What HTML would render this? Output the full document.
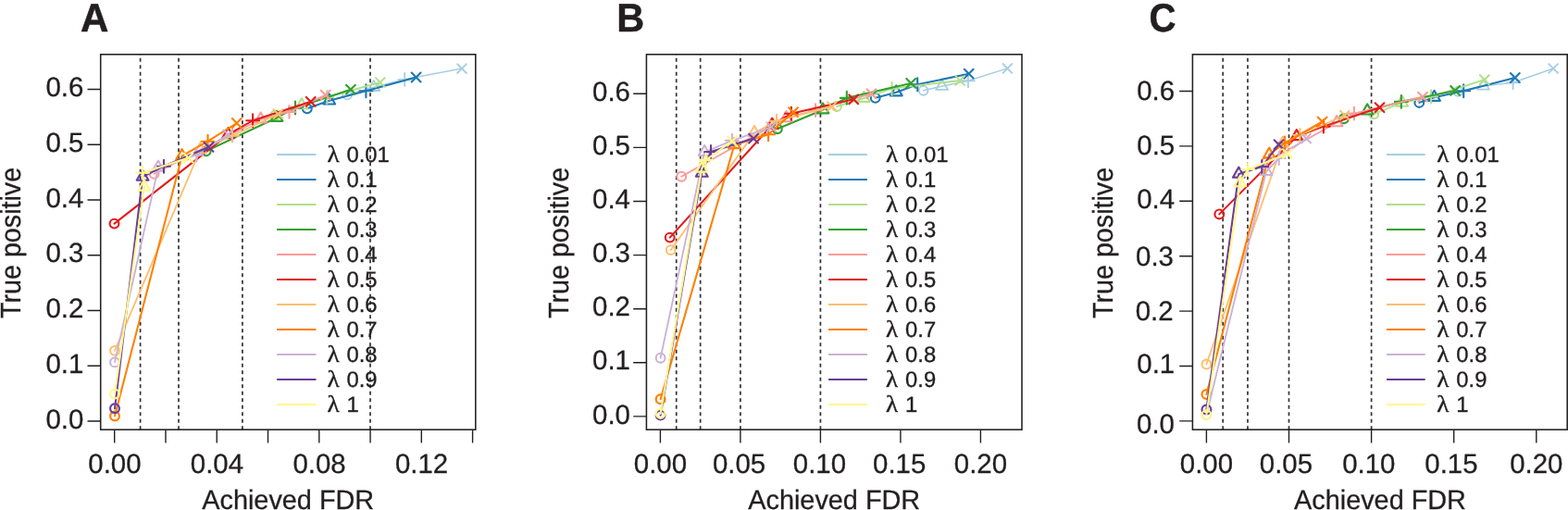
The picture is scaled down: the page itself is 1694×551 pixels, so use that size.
<!DOCTYPE html>
<html lang="en">
<head>
<meta charset="utf-8">
<title>True positive vs achieved FDR</title>
<style>
html,body{margin:0;padding:0;background:#fff;}
body{width:1694px;height:551px;overflow:hidden;}
svg{display:block;}
text{font-family:"Liberation Sans",Arial,Helvetica,sans-serif;fill:#231f20;text-rendering:geometricPrecision;}
.t{font-size:29.4px;stroke:#231f20;stroke-width:0.3px;}
.l{font-size:23.8px;stroke:#231f20;stroke-width:0.35px;}
.lm{font-family:"Liberation Serif","DejaVu Serif",serif;}
.p{font-size:42px;font-weight:bold;stroke:#231f20;stroke-width:0.5px;stroke-linejoin:miter;}
.ax{stroke:#231f20;stroke-width:1.55;fill:none;}
.tk{stroke:#231f20;stroke-width:1.4;fill:none;}
.vl{stroke:#333132;stroke-width:1.7;stroke-dasharray:4 3.5;fill:none;}
.s{fill:none;stroke-width:2.05;stroke-linejoin:round;stroke-linecap:round;}
.m{fill:none;stroke-width:2.15;stroke-linejoin:round;stroke-linecap:round;}
.lt .s{stroke-width:1.85;}
.lt .m{stroke-width:2.05;}
.lb .s{stroke-width:1.5;}
.lb .m{stroke-width:1.85;}
.lg{stroke-width:1.8;fill:none;}
</style>
</head>
<body>
<svg width="1694" height="551" viewBox="0 0 1694 551" role="img" aria-label="True positive versus achieved FDR for different lambda values, panels A, B and C">
<rect width="1694" height="551" fill="#fff"/>

<g id="panelA">
<text class="p" transform="translate(87.1 34.0) scale(1 1.025)">A</text>
<path class="vl" d="M151.6 464.2V58.8"/>
<path class="vl" d="M193 464.2V58.8"/>
<path class="vl" d="M261.9 464.2V58.8"/>
<path class="vl" d="M400 464.2V58.8"/>
<g stroke="#A6CEE3" class="lb">
<polyline class="s" points="375.1,102.5 403.8,94.3 437.2,85.8 499,74.1"/>
<g class="m"><circle cx="375.1" cy="102.5" r="4.9"/><path d="M403.8 86.91L410.2 97.99L397.4 97.99Z"/><path d="M430.27 85.8H444.13M437.2 78.87V92.73"/><path d="M494.1 69.2L503.9 79M494.1 79L503.9 69.2"/></g>
</g>
<g stroke="#1F78B4">
<polyline class="s" points="331.8,117.3 355.7,108.8 395.4,98.2 449.6,83.5"/>
<g class="m"><circle cx="331.8" cy="117.3" r="4.9"/><path d="M355.7 101.41L362.1 112.49L349.3 112.49Z"/><path d="M388.47 98.2H402.33M395.4 91.27V105.13"/><path d="M444.7 78.6L454.5 88.4M444.7 88.4L454.5 78.6"/></g>
</g>
<g stroke="#B2DF8A" class="lt">
<polyline class="s" points="297.5,124.3 326,113.6 353.3,105 410.8,89"/>
<g class="m"><circle cx="297.5" cy="124.3" r="4.9"/><path d="M326 106.21L332.4 117.29L319.6 117.29Z"/><path d="M346.37 105H360.23M353.3 98.07V111.93"/><path d="M405.9 84.1L415.7 93.9M405.9 93.9L415.7 84.1"/></g>
</g>
<g stroke="#33A02C">
<polyline class="s" points="222.6,163.3 299,127.2 319,116.6 378.9,96.7"/>
<g class="m"><circle cx="222.6" cy="163.3" r="4.9"/><path d="M299 119.81L305.4 130.89L292.6 130.89Z"/><path d="M312.07 116.6H325.93M319 109.67V123.53"/><path d="M374 91.8L383.8 101.6M374 101.6L383.8 91.8"/></g>
</g>
<g stroke="#FB9A99" class="lt">
<polyline class="s" points="166.6,187.8 281.6,128.8 312.5,120.9 351.7,102.6"/>
<g class="m"><circle cx="166.6" cy="187.8" r="4.9"/><path d="M281.6 121.41L288 132.49L275.2 132.49Z"/><path d="M305.57 120.9H319.43M312.5 113.97V127.83"/><path d="M346.8 97.7L356.6 107.5M346.8 107.5L356.6 97.7"/></g>
</g>
<g stroke="#E31A1C">
<polyline class="s" points="123.5,241.6 246.6,145.4 273.1,130.2 335.7,109.8"/>
<g class="m"><circle cx="123.5" cy="241.6" r="4.9"/><path d="M246.6 138.01L253 149.09L240.2 149.09Z"/><path d="M266.17 130.2H280.03M273.1 123.27V137.13"/><path d="M330.8 104.9L340.6 114.7M330.8 114.7L340.6 104.9"/></g>
</g>
<g stroke="#FDBF6F" class="lt">
<polyline class="s" points="124,378.8 216.4,161.6 251,146.6 300.4,123.1"/>
<g class="m"><circle cx="124" cy="378.8" r="4.9"/><path d="M216.4 154.21L222.8 165.29L210 165.29Z"/><path d="M244.07 146.6H257.93M251 139.67V153.53"/><path d="M295.5 118.2L305.3 128M295.5 128L305.3 118.2"/></g>
</g>
<g stroke="#FF7F00">
<polyline class="s" points="124,449.5 196.6,168.5 224.5,152.7 255.8,133"/>
<g class="m"><circle cx="124" cy="449.5" r="4.9"/><path d="M196.6 161.11L203 172.19L190.2 172.19Z"/><path d="M217.57 152.7H231.43M224.5 145.77V159.63"/><path d="M250.9 128.1L260.7 137.9M250.9 137.9L260.7 128.1"/></g>
</g>
<g stroke="#CAB2D6" class="lt">
<polyline class="s" points="124,391.4 171,181 212.4,167.4 246.4,145.4"/>
<g class="m"><circle cx="124" cy="391.4" r="4.9"/><path d="M171 173.61L177.4 184.69L164.6 184.69Z"/><path d="M205.47 167.4H219.33M212.4 160.47V174.33"/><path d="M241.5 140.5L251.3 150.3M241.5 150.3L251.3 140.5"/></g>
</g>
<g stroke="#6A3D9A">
<polyline class="s" points="124,441.3 154.1,191.1 177,179.7 225.5,158.8"/>
<g class="m"><circle cx="124" cy="441.3" r="4.9"/><path d="M154.1 183.71L160.5 194.79L147.7 194.79Z"/><path d="M170.07 179.7H183.93M177 172.77V186.63"/><path d="M220.6 153.9L230.4 163.7M220.6 163.7L230.4 153.9"/></g>
</g>
<g stroke="#FFF88C">
<polyline class="s" points="124,425.6 155.8,202 154.1,186.7 203.5,170.5"/>
<g class="m"><circle cx="124" cy="425.6" r="4.9"/><path d="M155.8 194.61L162.2 205.69L149.4 205.69Z"/><path d="M147.17 186.7H161.03M154.1 179.77V193.63"/><path d="M198.6 165.6L208.4 175.4M198.6 175.4L208.4 165.6"/></g>
</g>
<path class="lg" stroke="#A6CEE3" d="M299.1 167H341.5"/>
<text class="l lm" transform="translate(353.5 175.4) scale(1.14 1.075)">λ</text><text class="l" transform="translate(374.5 175.4) scale(1 1.0)">0.01</text>
<path class="lg" stroke="#1F78B4" d="M299.1 194H341.5"/>
<text class="l lm" transform="translate(353.5 202.4) scale(1.14 1.075)">λ</text><text class="l" transform="translate(374.5 202.4) scale(1 1.0)">0.1</text>
<path class="lg" stroke="#B2DF8A" d="M299.1 221H341.5"/>
<text class="l lm" transform="translate(353.5 229.4) scale(1.14 1.075)">λ</text><text class="l" transform="translate(374.5 229.4) scale(1 1.0)">0.2</text>
<path class="lg" stroke="#33A02C" d="M299.1 248H341.5"/>
<text class="l lm" transform="translate(353.5 256.4) scale(1.14 1.075)">λ</text><text class="l" transform="translate(374.5 256.4) scale(1 1.0)">0.3</text>
<path class="lg" stroke="#FB9A99" d="M299.1 275H341.5"/>
<text class="l lm" transform="translate(353.5 283.4) scale(1.14 1.075)">λ</text><text class="l" transform="translate(374.5 283.4) scale(1 1.0)">0.4</text>
<path class="lg" stroke="#E31A1C" d="M299.1 302H341.5"/>
<text class="l lm" transform="translate(353.5 310.4) scale(1.14 1.075)">λ</text><text class="l" transform="translate(374.5 310.4) scale(1 1.0)">0.5</text>
<path class="lg" stroke="#FDBF6F" d="M299.1 329H341.5"/>
<text class="l lm" transform="translate(353.5 337.4) scale(1.14 1.075)">λ</text><text class="l" transform="translate(374.5 337.4) scale(1 1.0)">0.6</text>
<path class="lg" stroke="#FF7F00" d="M299.1 356H341.5"/>
<text class="l lm" transform="translate(353.5 364.4) scale(1.14 1.075)">λ</text><text class="l" transform="translate(374.5 364.4) scale(1 1.0)">0.7</text>
<path class="lg" stroke="#CAB2D6" d="M299.1 383H341.5"/>
<text class="l lm" transform="translate(353.5 391.4) scale(1.14 1.075)">λ</text><text class="l" transform="translate(374.5 391.4) scale(1 1.0)">0.8</text>
<path class="lg" stroke="#6A3D9A" d="M299.1 410H341.5"/>
<text class="l lm" transform="translate(353.5 418.4) scale(1.14 1.075)">λ</text><text class="l" transform="translate(374.5 418.4) scale(1 1.0)">0.9</text>
<path class="lg" stroke="#FFF88C" d="M299.1 437H341.5"/>
<text class="l lm" transform="translate(353.5 445.4) scale(1.14 1.075)">λ</text><text class="l" transform="translate(374.5 445.4) scale(1 1.0)">1</text>
<rect class="ax" x="108.7" y="58.8" width="405.1" height="405.4"/>
<path class="tk" d="M123.7 464.2V478.4M178.97 464.2V478.4M234.24 464.2V478.4M289.51 464.2V478.4M344.78 464.2V478.4M400.05 464.2V478.4M455.32 464.2V478.4M510.59 464.2V478.4M108.7 455H94.5M108.7 395.25H94.5M108.7 335.5H94.5M108.7 275.75H94.5M108.7 216H94.5M108.7 156.25H94.5M108.7 96.5H94.5"/>
<text class="t" text-anchor="middle" transform="translate(123.9 510.5) scale(1 1.0)">0.00</text>
<text class="t" text-anchor="middle" transform="translate(234.44 510.5) scale(1 1.0)">0.04</text>
<text class="t" text-anchor="middle" transform="translate(344.98 510.5) scale(1 1.0)">0.08</text>
<text class="t" text-anchor="middle" transform="translate(455.52 510.5) scale(1 1.0)">0.12</text>
<text class="t" text-anchor="end" transform="translate(90.3 462.6) scale(1 1.0)">0.0</text>
<text class="t" text-anchor="end" transform="translate(90.3 402.85) scale(1 1.0)">0.1</text>
<text class="t" text-anchor="end" transform="translate(90.3 343.1) scale(1 1.0)">0.2</text>
<text class="t" text-anchor="end" transform="translate(90.3 283.35) scale(1 1.0)">0.3</text>
<text class="t" text-anchor="end" transform="translate(90.3 223.6) scale(1 1.0)">0.4</text>
<text class="t" text-anchor="end" transform="translate(90.3 163.85) scale(1 1.0)">0.5</text>
<text class="t" text-anchor="end" transform="translate(90.3 104.1) scale(1 1.0)">0.6</text>
<text class="t" text-anchor="middle" transform="translate(311.2 550) scale(0.981 1.0)">Achieved FDR</text>
<text class="t" text-anchor="middle" transform="translate(21.8 262.4) rotate(-90) scale(0.975 1.04)">True positive</text>
</g>
<g id="panelB">
<text class="p" transform="translate(666.2 34.0) scale(0.985 1.025)">B</text>
<path class="vl" d="M730.7 464.2V58.8"/>
<path class="vl" d="M756.65 464.2V58.8"/>
<path class="vl" d="M799.9 464.2V58.8"/>
<path class="vl" d="M886.4 464.2V58.8"/>
<g stroke="#A6CEE3" class="lb">
<polyline class="s" points="997.6,97.8 1017.6,93.2 1045.9,87.2 1088.4,73.9"/>
<g class="m"><circle cx="997.6" cy="97.8" r="4.9"/><path d="M1017.6 85.81L1024 96.89L1011.2 96.89Z"/><path d="M1038.97 87.2H1052.83M1045.9 80.27V94.13"/><path d="M1083.5 69L1093.3 78.8M1083.5 78.8L1093.3 69"/></g>
</g>
<g stroke="#1F78B4">
<polyline class="s" points="945.7,105.8 968.3,99.7 991.2,91.3 1046.7,79.7"/>
<g class="m"><circle cx="945.7" cy="105.8" r="4.9"/><path d="M968.3 92.31L974.7 103.39L961.9 103.39Z"/><path d="M984.27 91.3H998.13M991.2 84.37V98.23"/><path d="M1041.8 74.8L1051.6 84.6M1041.8 84.6L1051.6 74.8"/></g>
</g>
<g stroke="#B2DF8A" class="lt">
<polyline class="s" points="904,115 933.4,106.2 963.5,95.7 1037.2,87"/>
<g class="m"><circle cx="904" cy="115" r="4.9"/><path d="M933.4 98.81L939.8 109.89L927 109.89Z"/><path d="M956.57 95.7H970.43M963.5 88.77V102.63"/><path d="M1032.3 82.1L1042.1 91.9M1032.3 91.9L1042.1 82.1"/></g>
</g>
<g stroke="#33A02C">
<polyline class="s" points="839.8,139.2 888.9,118.7 914.8,105.8 984.2,89.9"/>
<g class="m"><circle cx="839.8" cy="139.2" r="4.9"/><path d="M888.9 111.31L895.3 122.39L882.5 122.39Z"/><path d="M907.87 105.8H921.73M914.8 98.87V112.73"/><path d="M979.3 85L989.1 94.8M979.3 94.8L989.1 85"/></g>
</g>
<g stroke="#FB9A99" class="lt">
<polyline class="s" points="736.2,190.7 849.4,127.5 881.1,119.1 941.4,101.2"/>
<g class="m"><circle cx="736.2" cy="190.7" r="4.9"/><path d="M849.4 120.11L855.8 131.19L843 131.19Z"/><path d="M874.17 119.1H888.03M881.1 112.17V126.03"/><path d="M936.5 96.3L946.3 106.1M936.5 106.1L946.3 96.3"/></g>
</g>
<g stroke="#E31A1C">
<polyline class="s" points="723.7,256.6 834.2,135 854.9,122.7 922.2,107.3"/>
<g class="m"><circle cx="723.7" cy="256.6" r="4.9"/><path d="M834.2 127.61L840.6 138.69L827.8 138.69Z"/><path d="M847.97 122.7H861.83M854.9 115.77V129.63"/><path d="M917.3 102.4L927.1 112.2M917.3 112.2L927.1 102.4"/></g>
</g>
<g stroke="#FDBF6F" class="lt">
<polyline class="s" points="724.7,270.1 815,143.5 839,130.7 898.8,115"/>
<g class="m"><circle cx="724.7" cy="270.1" r="4.9"/><path d="M815 136.11L821.4 147.19L808.6 147.19Z"/><path d="M832.07 130.7H845.93M839 123.77V137.63"/><path d="M893.9 110.1L903.7 119.9M893.9 119.9L903.7 110.1"/></g>
</g>
<g stroke="#FF7F00">
<polyline class="s" points="713.6,431.3 793.4,156.5 830.1,145.2 857,121.2"/>
<g class="m"><circle cx="713.6" cy="431.3" r="4.9"/><path d="M793.4 149.11L799.8 160.19L787 160.19Z"/><path d="M823.17 145.2H837.03M830.1 138.27V152.13"/><path d="M852.1 116.3L861.9 126.1M852.1 126.1L861.9 116.3"/></g>
</g>
<g stroke="#CAB2D6" class="lt">
<polyline class="s" points="713.6,386.7 761.1,164.3 790.9,151.8 833.4,137.2"/>
<g class="m"><circle cx="713.6" cy="386.7" r="4.9"/><path d="M761.1 156.91L767.5 167.99L754.7 167.99Z"/><path d="M783.97 151.8H797.83M790.9 144.87V158.73"/><path d="M828.5 132.3L838.3 142.1M828.5 142.1L838.3 132.3"/></g>
</g>
<g stroke="#6A3D9A">
<polyline class="s" points="713.6,448.6 758.2,187.1 768,164.1 814.1,149.6"/>
<g class="m"><circle cx="713.6" cy="448.6" r="4.9"/><path d="M758.2 179.71L764.6 190.79L751.8 190.79Z"/><path d="M761.07 164.1H774.93M768 157.17V171.03"/><path d="M809.2 144.7L819 154.5M809.2 154.5L819 144.7"/></g>
</g>
<g stroke="#FFF88C">
<polyline class="s" points="713.6,446.9 758.2,182 762.6,172.8 790.9,152.5"/>
<g class="m"><circle cx="713.6" cy="446.9" r="4.9"/><path d="M758.2 174.61L764.6 185.69L751.8 185.69Z"/><path d="M755.67 172.8H769.53M762.6 165.87V179.73"/><path d="M786 147.6L795.8 157.4M786 157.4L795.8 147.6"/></g>
</g>
<path class="lg" stroke="#A6CEE3" d="M895 167H936.9"/>
<text class="l lm" transform="translate(957.1 175.4) scale(1.14 1.075)">λ</text><text class="l" transform="translate(978.1 175.4) scale(1 1.0)">0.01</text>
<path class="lg" stroke="#1F78B4" d="M895 194H936.9"/>
<text class="l lm" transform="translate(957.1 202.4) scale(1.14 1.075)">λ</text><text class="l" transform="translate(978.1 202.4) scale(1 1.0)">0.1</text>
<path class="lg" stroke="#B2DF8A" d="M895 221H936.9"/>
<text class="l lm" transform="translate(957.1 229.4) scale(1.14 1.075)">λ</text><text class="l" transform="translate(978.1 229.4) scale(1 1.0)">0.2</text>
<path class="lg" stroke="#33A02C" d="M895 248H936.9"/>
<text class="l lm" transform="translate(957.1 256.4) scale(1.14 1.075)">λ</text><text class="l" transform="translate(978.1 256.4) scale(1 1.0)">0.3</text>
<path class="lg" stroke="#FB9A99" d="M895 275H936.9"/>
<text class="l lm" transform="translate(957.1 283.4) scale(1.14 1.075)">λ</text><text class="l" transform="translate(978.1 283.4) scale(1 1.0)">0.4</text>
<path class="lg" stroke="#E31A1C" d="M895 302H936.9"/>
<text class="l lm" transform="translate(957.1 310.4) scale(1.14 1.075)">λ</text><text class="l" transform="translate(978.1 310.4) scale(1 1.0)">0.5</text>
<path class="lg" stroke="#FDBF6F" d="M895 329H936.9"/>
<text class="l lm" transform="translate(957.1 337.4) scale(1.14 1.075)">λ</text><text class="l" transform="translate(978.1 337.4) scale(1 1.0)">0.6</text>
<path class="lg" stroke="#FF7F00" d="M895 356H936.9"/>
<text class="l lm" transform="translate(957.1 364.4) scale(1.14 1.075)">λ</text><text class="l" transform="translate(978.1 364.4) scale(1 1.0)">0.7</text>
<path class="lg" stroke="#CAB2D6" d="M895 383H936.9"/>
<text class="l lm" transform="translate(957.1 391.4) scale(1.14 1.075)">λ</text><text class="l" transform="translate(978.1 391.4) scale(1 1.0)">0.8</text>
<path class="lg" stroke="#6A3D9A" d="M895 410H936.9"/>
<text class="l lm" transform="translate(957.1 418.4) scale(1.14 1.075)">λ</text><text class="l" transform="translate(978.1 418.4) scale(1 1.0)">0.9</text>
<path class="lg" stroke="#FFF88C" d="M895 437H936.9"/>
<text class="l lm" transform="translate(957.1 445.4) scale(1.14 1.075)">λ</text><text class="l" transform="translate(978.1 445.4) scale(1 1.0)">1</text>
<rect class="ax" x="698.4" y="58.8" width="405.6" height="405.4"/>
<path class="tk" d="M713.4 464.2V478.4M799.9 464.2V478.4M886.4 464.2V478.4M972.9 464.2V478.4M1059.4 464.2V478.4M698.4 449.9H684.2M698.4 391.8H684.2M698.4 333.7H684.2M698.4 275.6H684.2M698.4 217.5H684.2M698.4 159.4H684.2M698.4 101.3H684.2"/>
<text class="t" text-anchor="middle" transform="translate(713.4 510.5) scale(1 1.0)">0.00</text>
<text class="t" text-anchor="middle" transform="translate(798.6 510.5) scale(1 1.0)">0.05</text>
<text class="t" text-anchor="middle" transform="translate(885.4 510.5) scale(1 1.0)">0.10</text>
<text class="t" text-anchor="middle" transform="translate(971.7 510.5) scale(1 1.0)">0.15</text>
<text class="t" text-anchor="middle" transform="translate(1059.4 510.5) scale(1 1.0)">0.20</text>
<text class="t" text-anchor="end" transform="translate(680.9 457.5) scale(1 1.0)">0.0</text>
<text class="t" text-anchor="end" transform="translate(680.9 399.4) scale(1 1.0)">0.1</text>
<text class="t" text-anchor="end" transform="translate(680.9 341.3) scale(1 1.0)">0.2</text>
<text class="t" text-anchor="end" transform="translate(680.9 283.2) scale(1 1.0)">0.3</text>
<text class="t" text-anchor="end" transform="translate(680.9 225.1) scale(1 1.0)">0.4</text>
<text class="t" text-anchor="end" transform="translate(680.9 167) scale(1 1.0)">0.5</text>
<text class="t" text-anchor="end" transform="translate(680.9 108.9) scale(1 1.0)">0.6</text>
<text class="t" text-anchor="middle" transform="translate(901.2 550) scale(0.981 1.0)">Achieved FDR</text>
<text class="t" text-anchor="middle" transform="translate(614.2 262.4) rotate(-90) scale(0.975 1.04)">True positive</text>
</g>
<g id="panelC">
<text class="p" transform="translate(1241.5 34.0) scale(0.955 1.025)">C</text>
<path class="vl" d="M1321.2 464.2V58.8"/>
<path class="vl" d="M1347.95 464.2V58.8"/>
<path class="vl" d="M1392.5 464.2V58.8"/>
<path class="vl" d="M1481.6 464.2V58.8"/>
<g stroke="#A6CEE3" class="lb">
<polyline class="s" points="1575.2,98.8 1602.5,92.9 1634.6,89.3 1678.1,74"/>
<g class="m"><circle cx="1575.2" cy="98.8" r="4.9"/><path d="M1602.5 85.51L1608.9 96.59L1596.1 96.59Z"/><path d="M1627.67 89.3H1641.53M1634.6 82.37V96.23"/><path d="M1673.2 69.1L1683 78.9M1673.2 78.9L1683 69.1"/></g>
</g>
<g stroke="#1F78B4">
<polyline class="s" points="1533.3,110.9 1549.5,105.2 1581.2,98.2 1636.8,84"/>
<g class="m"><circle cx="1533.3" cy="110.9" r="4.9"/><path d="M1549.5 97.81L1555.9 108.89L1543.1 108.89Z"/><path d="M1574.27 98.2H1588.13M1581.2 91.27V105.13"/><path d="M1631.9 79.1L1641.7 88.9M1631.9 88.9L1641.7 79.1"/></g>
</g>
<g stroke="#B2DF8A" class="lt">
<polyline class="s" points="1484.2,123.2 1514.7,111 1546,104.5 1603.8,86.1"/>
<g class="m"><circle cx="1484.2" cy="123.2" r="4.9"/><path d="M1514.7 103.61L1521.1 114.69L1508.3 114.69Z"/><path d="M1539.07 104.5H1552.93M1546 97.57V111.43"/><path d="M1598.9 81.2L1608.7 91M1598.9 91L1608.7 81.2"/></g>
</g>
<g stroke="#33A02C">
<polyline class="s" points="1451.8,128.3 1477.2,119.8 1513.8,109.9 1572.1,97.9"/>
<g class="m"><circle cx="1451.8" cy="128.3" r="4.9"/><path d="M1477.2 112.41L1483.6 123.49L1470.8 123.49Z"/><path d="M1506.87 109.9H1520.73M1513.8 102.97V116.83"/><path d="M1567.2 93L1577 102.8M1567.2 102.8L1577 93"/></g>
</g>
<g stroke="#FB9A99" class="lt">
<polyline class="s" points="1368,175 1444.1,132.5 1462.9,122.6 1537,104.6"/>
<g class="m"><circle cx="1368" cy="175" r="4.9"/><path d="M1444.1 125.11L1450.5 136.19L1437.7 136.19Z"/><path d="M1455.97 122.6H1469.83M1462.9 115.67V129.53"/><path d="M1532.1 99.7L1541.9 109.5M1532.1 109.5L1541.9 99.7"/></g>
</g>
<g stroke="#E31A1C">
<polyline class="s" points="1317.3,231.4 1400.8,147.5 1429.9,136.6 1490.5,116.2"/>
<g class="m"><circle cx="1317.3" cy="231.4" r="4.9"/><path d="M1400.8 140.11L1407.2 151.19L1394.4 151.19Z"/><path d="M1422.97 136.6H1436.83M1429.9 129.67V143.53"/><path d="M1485.6 111.3L1495.4 121.1M1485.6 121.1L1495.4 111.3"/></g>
</g>
<g stroke="#FDBF6F" class="lt">
<polyline class="s" points="1303.4,393.5 1385.8,155 1404.4,146 1452.8,124.5"/>
<g class="m"><circle cx="1303.4" cy="393.5" r="4.9"/><path d="M1385.8 147.61L1392.2 158.69L1379.4 158.69Z"/><path d="M1397.47 146H1411.33M1404.4 139.07V152.93"/><path d="M1447.9 119.6L1457.7 129.4M1447.9 129.4L1457.7 119.6"/></g>
</g>
<g stroke="#FF7F00">
<polyline class="s" points="1303.4,426 1371.2,167 1388.1,154.5 1428.6,131.5"/>
<g class="m"><circle cx="1303.4" cy="426" r="4.9"/><path d="M1371.2 159.61L1377.6 170.69L1364.8 170.69Z"/><path d="M1381.17 154.5H1395.03M1388.1 147.57V161.43"/><path d="M1423.7 126.6L1433.5 136.4M1423.7 136.4L1433.5 126.6"/></g>
</g>
<g stroke="#CAB2D6" class="lt">
<polyline class="s" points="1303.4,448 1368,185.3 1381.7,171 1411.2,149.5"/>
<g class="m"><circle cx="1303.4" cy="448" r="4.9"/><path d="M1368 177.91L1374.4 188.99L1361.6 188.99Z"/><path d="M1374.77 171H1388.63M1381.7 164.07V177.93"/><path d="M1406.3 144.6L1416.1 154.4M1406.3 154.4L1416.1 144.6"/></g>
</g>
<g stroke="#6A3D9A">
<polyline class="s" points="1303.4,442.5 1338.3,188 1363.3,180 1381.5,156.2"/>
<g class="m"><circle cx="1303.4" cy="442.5" r="4.9"/><path d="M1338.3 180.61L1344.7 191.69L1331.9 191.69Z"/><path d="M1356.37 180H1370.23M1363.3 173.07V186.93"/><path d="M1376.6 151.3L1386.4 161.1M1376.6 161.1L1386.4 151.3"/></g>
</g>
<g stroke="#FFF88C">
<polyline class="s" points="1303.4,448.1 1339.7,197.6 1348.2,183 1390.8,166.2"/>
<g class="m"><circle cx="1303.4" cy="448.1" r="4.9"/><path d="M1339.7 190.21L1346.1 201.29L1333.3 201.29Z"/><path d="M1341.27 183H1355.13M1348.2 176.07V189.93"/><path d="M1385.9 161.3L1395.7 171.1M1385.9 171.1L1395.7 161.3"/></g>
</g>
<path class="lg" stroke="#A6CEE3" d="M1498 167H1539.7"/>
<text class="l lm" transform="translate(1552.3 175.4) scale(1.14 1.075)">λ</text><text class="l" transform="translate(1573.3 175.4) scale(1 1.0)">0.01</text>
<path class="lg" stroke="#1F78B4" d="M1498 194H1539.7"/>
<text class="l lm" transform="translate(1552.3 202.4) scale(1.14 1.075)">λ</text><text class="l" transform="translate(1573.3 202.4) scale(1 1.0)">0.1</text>
<path class="lg" stroke="#B2DF8A" d="M1498 221H1539.7"/>
<text class="l lm" transform="translate(1552.3 229.4) scale(1.14 1.075)">λ</text><text class="l" transform="translate(1573.3 229.4) scale(1 1.0)">0.2</text>
<path class="lg" stroke="#33A02C" d="M1498 248H1539.7"/>
<text class="l lm" transform="translate(1552.3 256.4) scale(1.14 1.075)">λ</text><text class="l" transform="translate(1573.3 256.4) scale(1 1.0)">0.3</text>
<path class="lg" stroke="#FB9A99" d="M1498 275H1539.7"/>
<text class="l lm" transform="translate(1552.3 283.4) scale(1.14 1.075)">λ</text><text class="l" transform="translate(1573.3 283.4) scale(1 1.0)">0.4</text>
<path class="lg" stroke="#E31A1C" d="M1498 302H1539.7"/>
<text class="l lm" transform="translate(1552.3 310.4) scale(1.14 1.075)">λ</text><text class="l" transform="translate(1573.3 310.4) scale(1 1.0)">0.5</text>
<path class="lg" stroke="#FDBF6F" d="M1498 329H1539.7"/>
<text class="l lm" transform="translate(1552.3 337.4) scale(1.14 1.075)">λ</text><text class="l" transform="translate(1573.3 337.4) scale(1 1.0)">0.6</text>
<path class="lg" stroke="#FF7F00" d="M1498 356H1539.7"/>
<text class="l lm" transform="translate(1552.3 364.4) scale(1.14 1.075)">λ</text><text class="l" transform="translate(1573.3 364.4) scale(1 1.0)">0.7</text>
<path class="lg" stroke="#CAB2D6" d="M1498 383H1539.7"/>
<text class="l lm" transform="translate(1552.3 391.4) scale(1.14 1.075)">λ</text><text class="l" transform="translate(1573.3 391.4) scale(1 1.0)">0.8</text>
<path class="lg" stroke="#6A3D9A" d="M1498 410H1539.7"/>
<text class="l lm" transform="translate(1552.3 418.4) scale(1.14 1.075)">λ</text><text class="l" transform="translate(1573.3 418.4) scale(1 1.0)">0.9</text>
<path class="lg" stroke="#FFF88C" d="M1498 437H1539.7"/>
<text class="l lm" transform="translate(1552.3 445.4) scale(1.14 1.075)">λ</text><text class="l" transform="translate(1573.3 445.4) scale(1 1.0)">1</text>
<rect class="ax" x="1288.4" y="58.8" width="404.8" height="405.4"/>
<path class="tk" d="M1303.4 464.2V478.4M1392.5 464.2V478.4M1481.6 464.2V478.4M1570.7 464.2V478.4M1659.8 464.2V478.4M1288.4 454.9H1274.2M1288.4 395.5H1274.2M1288.4 336.1H1274.2M1288.4 276.7H1274.2M1288.4 217.3H1274.2M1288.4 157.9H1274.2M1288.4 98.5H1274.2"/>
<text class="t" text-anchor="middle" transform="translate(1303.4 510.5) scale(1 1.0)">0.00</text>
<text class="t" text-anchor="middle" transform="translate(1389.4 510.5) scale(1 1.0)">0.05</text>
<text class="t" text-anchor="middle" transform="translate(1478.8 510.5) scale(1 1.0)">0.10</text>
<text class="t" text-anchor="middle" transform="translate(1567.9 510.5) scale(1 1.0)">0.15</text>
<text class="t" text-anchor="middle" transform="translate(1659.8 510.5) scale(1 1.0)">0.20</text>
<text class="t" text-anchor="end" transform="translate(1268.9 468.4) scale(1 1.0)">0.0</text>
<text class="t" text-anchor="end" transform="translate(1269.2 402.9) scale(1 1.0)">0.1</text>
<text class="t" text-anchor="end" transform="translate(1267.6 346.2) scale(1 1.0)">0.2</text>
<text class="t" text-anchor="end" transform="translate(1267.9 287.3) scale(1 1.0)">0.3</text>
<text class="t" text-anchor="end" transform="translate(1269 225.1) scale(1 1.0)">0.4</text>
<text class="t" text-anchor="end" transform="translate(1269.2 167) scale(1 1.0)">0.5</text>
<text class="t" text-anchor="end" transform="translate(1269 108.4) scale(1 1.0)">0.6</text>
<text class="t" text-anchor="middle" transform="translate(1491 550) scale(0.981 1.0)">Achieved FDR</text>
<text class="t" text-anchor="middle" transform="translate(1202.2 262.4) rotate(-90) scale(0.975 1.04)">True positive</text>
</g>
</svg>
</body>
</html>
